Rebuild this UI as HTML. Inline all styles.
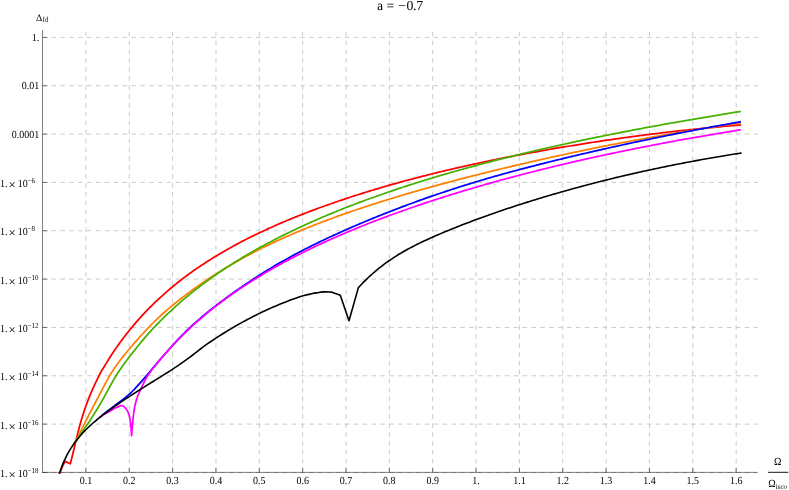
<!DOCTYPE html>
<html><head><meta charset="utf-8"><title>a = -0.7</title>
<style>
html,body{margin:0;padding:0;background:#fff;}
body{width:789px;height:490px;overflow:hidden;}
svg{display:block;will-change:transform;}
text{font-family:"Liberation Serif",serif;fill:#000;text-rendering:geometricPrecision;}
</style></head><body>
<svg width="789" height="490" viewBox="0 0 789 490">
<rect width="789" height="490" fill="#fff"/>
<g stroke="#c4c4c4" stroke-width="0.9" stroke-dasharray="4.5 4.4" fill="none">
<path d="M85.90 472.35 V30.20"/>
<path d="M129.25 472.35 V30.20"/>
<path d="M172.60 472.35 V30.20"/>
<path d="M215.95 472.35 V30.20"/>
<path d="M259.30 472.35 V30.20"/>
<path d="M302.65 472.35 V30.20"/>
<path d="M346.00 472.35 V30.20"/>
<path d="M389.35 472.35 V30.20"/>
<path d="M432.70 472.35 V30.20"/>
<path d="M476.05 472.35 V30.20"/>
<path d="M519.40 472.35 V30.20"/>
<path d="M562.75 472.35 V30.20"/>
<path d="M606.10 472.35 V30.20"/>
<path d="M649.45 472.35 V30.20"/>
<path d="M692.80 472.35 V30.20"/>
<path d="M736.15 472.35 V30.20"/>
<path stroke-dasharray="4.5 4.389" d="M42.55 37.40 H757.60"/>
<path stroke-dasharray="4.5 4.389" d="M42.55 85.74 H757.60"/>
<path stroke-dasharray="4.5 4.389" d="M42.55 134.08 H757.60"/>
<path stroke-dasharray="4.5 4.389" d="M42.55 182.42 H757.60"/>
<path stroke-dasharray="4.5 4.389" d="M42.55 230.76 H757.60"/>
<path stroke-dasharray="4.5 4.389" d="M42.55 279.10 H757.60"/>
<path stroke-dasharray="4.5 4.389" d="M42.55 327.44 H757.60"/>
<path stroke-dasharray="4.5 4.389" d="M42.55 375.78 H757.60"/>
<path stroke-dasharray="4.5 4.389" d="M42.55 424.12 H757.60"/>
<path stroke-dasharray="4.5 4.389" d="M42.55 472.46 H757.60"/>
</g>
<g stroke="#2a2a2a" stroke-width="0.6" fill="none">
<path d="M42.50 30.20 V472.75"/>
<path d="M42.10 472.40 H757.60"/>
<path d="M85.90 472.40 V467.70"/>
<path d="M129.25 472.40 V467.70"/>
<path d="M172.60 472.40 V467.70"/>
<path d="M215.95 472.40 V467.70"/>
<path d="M259.30 472.40 V467.70"/>
<path d="M302.65 472.40 V467.70"/>
<path d="M346.00 472.40 V467.70"/>
<path d="M389.35 472.40 V467.70"/>
<path d="M432.70 472.40 V467.70"/>
<path d="M476.05 472.40 V467.70"/>
<path d="M519.40 472.40 V467.70"/>
<path d="M562.75 472.40 V467.70"/>
<path d="M606.10 472.40 V467.70"/>
<path d="M649.45 472.40 V467.70"/>
<path d="M692.80 472.40 V467.70"/>
<path d="M736.15 472.40 V467.70"/>
<path d="M42.50 37.40 H47.40"/>
<path d="M42.50 85.74 H47.40"/>
<path d="M42.50 134.08 H47.40"/>
<path d="M42.50 182.42 H47.40"/>
<path d="M42.50 230.76 H47.40"/>
<path d="M42.50 279.10 H47.40"/>
<path d="M42.50 327.44 H47.40"/>
<path d="M42.50 375.78 H47.40"/>
<path d="M42.50 424.12 H47.40"/>
<path d="M42.50 472.46 H47.40"/>
</g>
<defs><clipPath id="cp"><rect x="42.55" y="30.20" width="715.05" height="443.55"/></clipPath></defs>
<g fill="none" stroke-width="1.75" stroke-linejoin="round" stroke-linecap="butt" clip-path="url(#cp)"><g transform="translate(0 0.3)">
<path stroke="#ff0000" d="M58.70 476.20C58.88 475.65 59.17 474.60 59.80 472.90C60.43 471.20 61.62 467.98 62.50 466.00C63.38 464.02 64.67 461.83 65.10 461.00L70.30 463.50L72.50 454.89C72.61 454.40 72.96 452.94 73.19 451.97C73.42 451.00 73.66 450.02 73.89 449.05C74.12 448.08 74.35 447.10 74.58 446.13C74.81 445.16 75.04 444.19 75.27 443.22C75.50 442.25 75.74 441.27 75.97 440.30C76.20 439.33 76.43 438.36 76.67 437.39C76.91 436.42 77.15 435.46 77.39 434.49C77.63 433.52 77.87 432.55 78.12 431.59C78.37 430.62 78.62 429.66 78.87 428.70C79.12 427.74 79.37 426.77 79.63 425.81C79.89 424.85 80.15 423.90 80.42 422.94C80.69 421.98 80.96 421.02 81.24 420.07C81.52 419.12 81.80 418.17 82.09 417.22C82.38 416.27 82.67 415.32 82.97 414.37C83.27 413.42 83.57 412.48 83.88 411.54C84.19 410.60 84.51 409.66 84.83 408.72C85.15 407.78 85.48 406.85 85.81 405.92C86.14 404.99 86.48 404.05 86.82 403.12C87.16 402.19 87.51 401.26 87.87 400.34C88.23 399.41 88.59 398.49 88.96 397.57C89.33 396.65 89.70 395.73 90.08 394.81C90.46 393.89 90.84 392.98 91.23 392.07C91.62 391.16 92.02 390.25 92.42 389.34C92.82 388.43 93.23 387.52 93.64 386.62C94.05 385.72 94.47 384.82 94.89 383.92C95.31 383.02 95.74 382.12 96.17 381.23C96.60 380.34 97.03 379.44 97.47 378.55C97.91 377.66 98.35 376.77 98.80 375.88C99.25 374.99 99.70 374.11 100.16 373.22C100.62 372.34 101.15 371.31 101.54 370.57C101.93 369.82 102.34 369.05 102.50 368.75L102.50 369.23C102.75 368.80 103.50 367.52 104.01 366.66C104.52 365.81 105.03 364.95 105.54 364.10C106.06 363.25 106.58 362.40 107.10 361.55C107.62 360.70 108.15 359.86 108.68 359.02C109.21 358.18 109.74 357.34 110.28 356.50C110.82 355.66 111.36 354.83 111.91 354.00C112.46 353.17 113.01 352.34 113.56 351.51C114.11 350.68 114.67 349.86 115.23 349.04C115.79 348.22 116.36 347.40 116.93 346.59C117.50 345.77 118.08 344.96 118.66 344.15C119.24 343.34 119.81 342.53 120.40 341.73C120.99 340.93 121.59 340.13 122.18 339.33C122.78 338.53 123.37 337.73 123.97 336.94C124.57 336.15 125.18 335.36 125.79 334.57C126.40 333.78 127.01 333.00 127.63 332.22C128.25 331.44 128.87 330.66 129.50 329.89C130.13 329.12 130.76 328.35 131.39 327.58C132.02 326.81 132.66 326.04 133.30 325.28C133.94 324.52 134.58 323.76 135.23 323.01C135.88 322.25 136.53 321.50 137.19 320.75C137.85 320.00 138.51 319.26 139.17 318.52C139.83 317.78 140.50 317.04 141.17 316.30C141.84 315.56 142.52 314.83 143.20 314.10C143.88 313.37 144.56 312.64 145.25 311.92C145.94 311.20 146.62 310.49 147.31 309.77C148.00 309.05 148.70 308.34 149.40 307.63C150.10 306.92 150.80 306.22 151.51 305.52C152.22 304.82 152.94 304.12 153.65 303.42C154.37 302.73 155.08 302.04 155.80 301.35C156.52 300.66 157.24 299.97 157.97 299.29C158.70 298.61 159.43 297.93 160.16 297.26C160.89 296.59 161.63 295.92 162.37 295.25C163.11 294.58 163.86 293.92 164.61 293.26C165.36 292.60 166.11 291.94 166.86 291.29C167.61 290.64 168.36 289.99 169.12 289.34C169.88 288.69 170.64 288.05 171.41 287.41C172.18 286.77 172.94 286.13 173.71 285.50C174.48 284.87 175.26 284.25 176.04 283.62C176.82 283.00 177.60 282.37 178.38 281.75C179.16 281.13 179.94 280.52 180.73 279.91C181.52 279.30 182.31 278.69 183.10 278.08C183.89 277.47 184.69 276.88 185.49 276.28C186.29 275.68 187.10 275.09 187.90 274.50C188.70 273.91 189.50 273.32 190.31 272.74C191.12 272.16 191.94 271.58 192.75 271.00C193.56 270.42 194.38 269.85 195.20 269.28C196.02 268.71 196.84 268.14 197.66 267.58C198.48 267.02 199.31 266.46 200.14 265.90C200.97 265.34 201.80 264.78 202.63 264.23C203.46 263.68 204.29 263.13 205.13 262.59C205.97 262.05 206.81 261.51 207.65 260.97C208.49 260.43 209.34 259.90 210.18 259.37C211.03 258.84 211.87 258.31 212.72 257.78C213.57 257.25 214.42 256.73 215.27 256.21C216.12 255.69 216.97 255.18 217.83 254.67C218.69 254.16 219.55 253.64 220.41 253.13C221.27 252.62 222.13 252.12 222.99 251.62C223.85 251.12 224.72 250.62 225.59 250.13C226.46 249.63 227.32 249.14 228.19 248.65C229.06 248.16 229.94 247.68 230.81 247.19C231.68 246.70 232.55 246.22 233.43 245.74C234.31 245.26 235.19 244.78 236.07 244.31C236.95 243.84 237.83 243.37 238.71 242.90C239.59 242.43 240.48 241.97 241.36 241.51C242.25 241.05 243.13 240.58 244.02 240.12C244.91 239.66 245.80 239.21 246.69 238.76C247.58 238.31 248.47 237.86 249.36 237.41C250.25 236.96 251.14 236.52 252.04 236.08C252.94 235.64 253.83 235.20 254.73 234.76C255.63 234.32 256.53 233.88 257.43 233.45C258.33 233.02 259.24 232.59 260.14 232.16C261.04 231.73 261.95 231.30 262.85 230.88C263.75 230.46 264.66 230.04 265.57 229.62C266.48 229.20 267.38 228.78 268.29 228.37C269.20 227.96 270.11 227.54 271.02 227.13C271.93 226.72 272.85 226.31 273.76 225.91C274.67 225.50 275.58 225.10 276.50 224.70C277.42 224.30 278.33 223.90 279.25 223.50C280.17 223.10 281.08 222.71 282.00 222.32C282.92 221.93 283.84 221.53 284.76 221.14C285.68 220.75 286.60 220.36 287.52 219.98C288.44 219.60 289.37 219.22 290.29 218.84C291.22 218.46 292.14 218.08 293.07 217.70C294.00 217.32 294.92 216.94 295.85 216.57C296.78 216.20 297.70 215.83 298.63 215.46C299.56 215.09 300.49 214.73 301.42 214.36C302.35 214.00 303.28 213.63 304.21 213.27C305.14 212.91 306.08 212.55 307.01 212.19C307.94 211.83 308.88 211.47 309.81 211.12C310.74 210.77 311.68 210.41 312.61 210.06C313.55 209.71 314.48 209.36 315.42 209.01C316.36 208.66 317.29 208.31 318.23 207.97C319.17 207.62 320.11 207.28 321.05 206.94C321.99 206.60 322.93 206.26 323.87 205.92C324.81 205.58 325.75 205.25 326.69 204.91C327.63 204.57 328.58 204.24 329.52 203.91C330.46 203.58 331.41 203.25 332.35 202.92C333.29 202.59 334.24 202.26 335.18 201.94C336.12 201.62 337.07 201.29 338.02 200.97C338.97 200.65 339.91 200.33 340.86 200.01C341.81 199.69 342.75 199.37 343.70 199.05C344.65 198.73 345.60 198.42 346.55 198.11C347.50 197.80 348.45 197.48 349.40 197.17C350.35 196.86 351.30 196.55 352.25 196.24C353.20 195.93 354.15 195.62 355.10 195.32C356.05 195.01 357.01 194.71 357.96 194.41C358.91 194.11 359.87 193.80 360.82 193.50C361.77 193.20 362.73 192.91 363.68 192.61C364.63 192.31 365.60 192.01 366.55 191.72C367.50 191.43 368.46 191.13 369.41 190.84C370.37 190.55 371.32 190.26 372.28 189.97C373.24 189.68 374.19 189.39 375.15 189.10C376.11 188.81 377.07 188.52 378.03 188.24C378.99 187.96 379.94 187.68 380.90 187.40C381.86 187.12 382.82 186.83 383.78 186.55C384.74 186.27 385.70 186.00 386.66 185.72C387.62 185.44 388.59 185.16 389.55 184.89C390.51 184.61 391.47 184.34 392.43 184.07C393.39 183.80 394.36 183.53 395.32 183.26C396.28 182.99 397.25 182.73 398.21 182.46C399.17 182.19 400.14 181.93 401.10 181.66C402.06 181.39 403.03 181.13 403.99 180.87C404.95 180.61 405.93 180.34 406.89 180.08C407.85 179.82 408.81 179.57 409.78 179.31C410.75 179.05 411.71 178.80 412.68 178.54C413.65 178.28 414.61 178.02 415.58 177.77C416.55 177.52 417.51 177.27 418.48 177.02C419.45 176.77 420.42 176.52 421.39 176.27C422.36 176.02 423.32 175.77 424.29 175.52C425.26 175.27 426.23 175.03 427.20 174.79C428.17 174.55 429.14 174.30 430.11 174.06C431.08 173.82 432.05 173.57 433.02 173.33C433.99 173.09 434.96 172.85 435.93 172.61C436.90 172.37 437.88 172.14 438.85 171.90C439.82 171.66 440.79 171.43 441.76 171.20C442.73 170.97 443.71 170.73 444.68 170.50C445.65 170.27 446.63 170.04 447.60 169.81C448.57 169.58 449.55 169.35 450.52 169.12C451.49 168.89 452.47 168.67 453.44 168.44C454.41 168.21 455.39 167.98 456.36 167.76C457.33 167.53 458.30 167.31 459.28 167.09C460.25 166.87 461.23 166.65 462.21 166.43C463.19 166.21 464.16 165.99 465.14 165.77C466.12 165.55 467.08 165.34 468.06 165.12C469.04 164.90 470.01 164.69 470.99 164.47C471.97 164.25 472.94 164.04 473.92 163.83C474.90 163.62 475.87 163.41 476.85 163.20C477.83 162.99 478.81 162.78 479.79 162.57C480.77 162.36 481.74 162.15 482.72 161.94C483.70 161.73 484.67 161.52 485.65 161.32C486.63 161.12 487.61 160.91 488.59 160.71C489.57 160.51 490.55 160.30 491.53 160.10C492.51 159.90 493.49 159.69 494.47 159.49C495.45 159.29 496.43 159.10 497.41 158.90C498.39 158.70 499.37 158.50 500.35 158.30C501.33 158.10 502.31 157.91 503.29 157.71C504.27 157.52 505.25 157.32 506.23 157.13C507.21 156.94 508.19 156.74 509.17 156.55C510.15 156.36 511.14 156.17 512.12 155.98C513.10 155.79 514.08 155.60 515.06 155.41C516.04 155.22 517.03 155.03 518.01 154.84C518.99 154.65 519.97 154.47 520.95 154.29C521.93 154.10 522.92 153.91 523.90 153.73C524.88 153.54 525.87 153.36 526.85 153.18C527.83 153.00 528.82 152.82 529.80 152.64C530.78 152.46 531.77 152.27 532.75 152.09C533.73 151.91 534.72 151.74 535.70 151.56C536.69 151.38 537.67 151.21 538.66 151.03C539.64 150.85 540.63 150.68 541.61 150.50C542.59 150.32 543.57 150.15 544.56 149.98C545.54 149.81 546.53 149.63 547.52 149.46C548.50 149.29 549.49 149.11 550.47 148.94C551.46 148.77 552.44 148.60 553.43 148.43C554.41 148.26 555.39 148.10 556.38 147.93C557.37 147.76 558.35 147.60 559.34 147.43C560.33 147.26 561.31 147.10 562.30 146.93C563.29 146.76 564.27 146.59 565.26 146.43C566.25 146.27 567.23 146.11 568.22 145.95C569.21 145.79 570.19 145.62 571.18 145.46C572.17 145.30 573.15 145.14 574.14 144.98C575.13 144.82 576.11 144.66 577.10 144.50C578.09 144.34 579.07 144.19 580.06 144.03C581.05 143.87 582.04 143.72 583.03 143.56C584.02 143.40 585.00 143.25 585.99 143.09C586.98 142.94 587.96 142.78 588.95 142.63C589.94 142.48 590.93 142.32 591.92 142.17C592.91 142.02 593.89 141.87 594.88 141.72C595.87 141.57 596.86 141.42 597.85 141.27C598.84 141.12 599.83 140.97 600.82 140.82C601.81 140.67 602.79 140.53 603.78 140.38C604.77 140.23 605.76 140.09 606.75 139.94C607.74 139.79 608.73 139.65 609.72 139.51C610.71 139.37 611.70 139.22 612.69 139.08C613.68 138.94 614.67 138.79 615.66 138.65C616.65 138.51 617.64 138.37 618.63 138.23C619.62 138.09 620.61 137.95 621.60 137.81C622.59 137.67 623.58 137.54 624.57 137.40C625.56 137.26 626.55 137.13 627.54 136.99C628.53 136.85 629.52 136.72 630.51 136.58C631.50 136.45 632.49 136.31 633.48 136.18C634.47 136.05 635.47 135.91 636.46 135.78C637.45 135.65 638.44 135.52 639.43 135.39C640.42 135.26 641.42 135.13 642.41 135.00C643.40 134.87 644.39 134.75 645.38 134.62C646.37 134.49 647.37 134.37 648.36 134.24C649.35 134.11 650.34 133.99 651.33 133.86C652.32 133.74 653.32 133.61 654.31 133.49C655.30 133.37 656.30 133.25 657.29 133.13C658.28 133.01 659.27 132.88 660.26 132.76C661.25 132.64 662.25 132.53 663.24 132.41C664.23 132.29 665.23 132.17 666.22 132.05C667.21 131.93 668.21 131.81 669.20 131.70C670.19 131.58 671.19 131.47 672.18 131.36C673.17 131.25 674.17 131.13 675.16 131.02C676.15 130.91 677.15 130.79 678.14 130.68C679.13 130.57 680.12 130.46 681.12 130.35C682.12 130.24 683.12 130.14 684.11 130.03C685.11 129.92 686.10 129.81 687.09 129.70C688.08 129.59 689.08 129.49 690.07 129.39C691.07 129.28 692.06 129.17 693.06 129.07C694.05 128.97 695.05 128.87 696.04 128.77C697.03 128.67 698.02 128.56 699.02 128.46C700.01 128.36 701.01 128.26 702.01 128.16C703.00 128.06 704.00 127.97 704.99 127.87C705.99 127.77 706.98 127.68 707.98 127.58C708.98 127.48 709.98 127.39 710.97 127.29C711.97 127.20 712.96 127.10 713.95 127.01C714.95 126.92 715.94 126.82 716.94 126.73C717.94 126.64 718.93 126.55 719.93 126.46C720.92 126.37 721.91 126.28 722.91 126.19C723.90 126.10 724.90 126.02 725.90 125.93C726.90 125.84 727.89 125.75 728.89 125.67C729.89 125.59 730.88 125.50 731.88 125.42C732.88 125.34 733.87 125.25 734.87 125.17C735.87 125.09 736.86 125.00 737.86 124.92C738.86 124.84 740.34 124.72 740.85 124.68C741.36 124.64 740.89 124.68 740.90 124.68"/>
<path stroke="#ff8000" d="M72.00 446.40C72.30 445.97 73.22 444.69 73.78 443.82C74.34 442.95 74.87 442.06 75.38 441.18C75.89 440.30 76.38 439.41 76.86 438.52C77.34 437.63 77.81 436.73 78.28 435.84C78.75 434.95 79.20 434.06 79.66 433.16C80.11 432.26 80.56 431.36 81.01 430.46C81.46 429.56 81.91 428.67 82.35 427.77C82.79 426.87 83.24 425.98 83.68 425.08C84.12 424.18 84.57 423.28 85.01 422.39C85.45 421.50 85.90 420.60 86.34 419.71C86.78 418.82 87.23 417.92 87.68 417.03C88.13 416.14 88.58 415.25 89.03 414.36C89.48 413.47 89.93 412.59 90.39 411.71C90.85 410.83 91.31 409.94 91.78 409.06C92.25 408.18 92.71 407.29 93.18 406.41C93.65 405.53 94.12 404.65 94.59 403.77C95.06 402.89 95.53 402.00 96.00 401.12C96.47 400.24 96.94 399.36 97.41 398.47C97.88 397.58 98.35 396.69 98.81 395.80C99.27 394.91 99.73 394.02 100.19 393.13C100.65 392.24 101.10 391.35 101.56 390.46C102.02 389.57 102.47 388.68 102.93 387.79C103.39 386.90 103.85 386.02 104.31 385.14C104.77 384.26 105.24 383.38 105.71 382.50C106.18 381.62 106.65 380.76 107.13 379.89C107.61 379.02 108.10 378.16 108.59 377.30C109.08 376.44 109.58 375.59 110.09 374.74C110.60 373.89 111.11 373.05 111.64 372.21C112.17 371.37 112.70 370.55 113.25 369.72C113.80 368.89 114.35 368.07 114.91 367.25C115.47 366.43 116.04 365.63 116.61 364.82C117.18 364.01 117.76 363.21 118.35 362.41C118.94 361.61 119.54 360.81 120.14 360.02C120.74 359.23 121.35 358.45 121.96 357.67C122.57 356.89 123.20 356.11 123.82 355.33C124.44 354.55 125.07 353.79 125.70 353.02C126.33 352.25 126.97 351.49 127.61 350.72C128.25 349.96 128.89 349.19 129.54 348.43C130.19 347.67 130.83 346.92 131.48 346.16C132.13 345.40 132.78 344.64 133.44 343.89C134.09 343.13 134.75 342.38 135.41 341.63C136.07 340.88 136.73 340.14 137.39 339.39C138.05 338.64 138.72 337.89 139.38 337.15C140.04 336.41 140.71 335.67 141.38 334.93C142.05 334.19 142.72 333.45 143.40 332.72C144.08 331.99 144.75 331.26 145.43 330.53C146.11 329.80 146.80 329.08 147.49 328.36C148.18 327.64 148.87 326.91 149.56 326.20C150.25 325.49 150.95 324.78 151.65 324.07C152.35 323.36 153.05 322.65 153.76 321.95C154.47 321.25 155.17 320.55 155.89 319.86C156.60 319.17 157.33 318.48 158.05 317.79C158.77 317.10 159.49 316.42 160.22 315.74C160.95 315.06 161.68 314.39 162.42 313.72C163.16 313.05 163.90 312.39 164.65 311.73C165.40 311.07 166.15 310.42 166.90 309.77C167.66 309.12 168.42 308.47 169.18 307.83C169.94 307.19 170.71 306.56 171.48 305.92C172.25 305.29 173.02 304.65 173.79 304.02C174.56 303.39 175.34 302.76 176.12 302.14C176.90 301.52 177.68 300.90 178.46 300.28C179.24 299.66 180.03 299.04 180.82 298.43C181.61 297.82 182.40 297.21 183.19 296.60C183.98 295.99 184.77 295.38 185.57 294.78C186.37 294.18 187.16 293.59 187.96 292.99C188.76 292.39 189.57 291.79 190.37 291.20C191.17 290.61 191.97 290.02 192.78 289.43C193.59 288.84 194.40 288.26 195.21 287.68C196.02 287.10 196.84 286.52 197.65 285.95C198.47 285.38 199.28 284.80 200.10 284.23C200.92 283.66 201.75 283.09 202.57 282.53C203.39 281.96 204.21 281.40 205.04 280.84C205.87 280.28 206.70 279.72 207.53 279.17C208.36 278.62 209.20 278.07 210.03 277.52C210.86 276.97 211.69 276.42 212.53 275.88C213.37 275.34 214.21 274.80 215.05 274.26C215.89 273.72 216.74 273.19 217.58 272.66C218.43 272.13 219.27 271.60 220.12 271.07C220.97 270.54 221.82 270.01 222.67 269.49C223.52 268.97 224.38 268.45 225.23 267.94C226.08 267.43 226.94 266.91 227.80 266.40C228.66 265.89 229.52 265.38 230.38 264.87C231.24 264.36 232.10 263.86 232.96 263.36C233.82 262.86 234.69 262.37 235.56 261.87C236.43 261.38 237.30 260.88 238.17 260.39C239.04 259.90 239.91 259.42 240.78 258.93C241.65 258.44 242.52 257.96 243.40 257.48C244.28 257.00 245.16 256.53 246.04 256.05C246.92 255.58 247.80 255.10 248.68 254.63C249.56 254.16 250.45 253.69 251.33 253.23C252.21 252.77 253.09 252.31 253.98 251.85C254.87 251.39 255.76 250.94 256.65 250.48C257.54 250.02 258.43 249.57 259.32 249.12C260.21 248.67 261.11 248.22 262.00 247.78C262.89 247.34 263.79 246.89 264.69 246.45C265.59 246.01 266.48 245.57 267.38 245.14C268.28 244.70 269.18 244.27 270.08 243.84C270.98 243.41 271.89 242.99 272.79 242.56C273.69 242.13 274.59 241.71 275.50 241.29C276.41 240.87 277.32 240.45 278.23 240.03C279.14 239.61 280.04 239.20 280.95 238.79C281.86 238.38 282.78 237.97 283.69 237.56C284.60 237.15 285.52 236.75 286.43 236.35C287.34 235.95 288.25 235.54 289.17 235.14C290.09 234.74 291.00 234.34 291.92 233.95C292.84 233.56 293.76 233.16 294.68 232.77C295.60 232.38 296.52 232.00 297.44 231.61C298.36 231.22 299.29 230.83 300.21 230.45C301.13 230.07 302.06 229.69 302.98 229.31C303.90 228.93 304.82 228.55 305.75 228.17C306.68 227.79 307.60 227.42 308.53 227.05C309.46 226.68 310.39 226.31 311.32 225.94C312.25 225.57 313.18 225.21 314.11 224.84C315.04 224.47 315.97 224.11 316.90 223.75C317.83 223.39 318.77 223.03 319.70 222.67C320.63 222.31 321.57 221.95 322.50 221.60C323.43 221.25 324.37 220.89 325.30 220.54C326.24 220.19 327.17 219.84 328.11 219.49C329.05 219.14 329.98 218.80 330.92 218.45C331.86 218.10 332.80 217.75 333.74 217.41C334.68 217.07 335.62 216.73 336.56 216.39C337.50 216.05 338.44 215.72 339.38 215.38C340.32 215.04 341.26 214.71 342.20 214.37C343.14 214.03 344.09 213.70 345.03 213.37C345.97 213.04 346.92 212.71 347.86 212.38C348.81 212.05 349.75 211.72 350.70 211.40C351.64 211.08 352.58 210.75 353.53 210.43C354.47 210.11 355.42 209.78 356.37 209.46C357.32 209.14 358.26 208.83 359.21 208.51C360.16 208.19 361.11 207.88 362.06 207.56C363.01 207.24 363.95 206.92 364.90 206.61C365.85 206.30 366.80 205.99 367.75 205.68C368.70 205.37 369.66 205.06 370.61 204.75C371.56 204.44 372.51 204.14 373.46 203.83C374.41 203.52 375.37 203.21 376.32 202.91C377.27 202.61 378.22 202.31 379.17 202.01C380.12 201.71 381.09 201.41 382.04 201.11C383.00 200.81 383.95 200.51 384.90 200.21C385.85 199.91 386.81 199.62 387.76 199.32C388.71 199.02 389.67 198.73 390.63 198.44C391.59 198.15 392.54 197.86 393.50 197.57C394.46 197.28 395.41 196.99 396.37 196.70C397.33 196.41 398.28 196.12 399.24 195.83C400.20 195.54 401.15 195.26 402.11 194.98C403.07 194.69 404.03 194.40 404.99 194.12C405.95 193.84 406.91 193.56 407.87 193.28C408.83 193.00 409.79 192.72 410.75 192.44C411.71 192.16 412.67 191.88 413.63 191.60C414.59 191.32 415.55 191.05 416.51 190.77C417.47 190.50 418.43 190.22 419.39 189.95C420.35 189.68 421.32 189.40 422.28 189.13C423.24 188.86 424.21 188.58 425.17 188.31C426.13 188.04 427.09 187.78 428.05 187.51C429.01 187.24 429.98 186.97 430.94 186.70C431.90 186.43 432.87 186.16 433.83 185.90C434.79 185.64 435.76 185.37 436.73 185.11C437.70 184.85 438.66 184.58 439.62 184.32C440.58 184.06 441.55 183.79 442.52 183.53C443.49 183.27 444.45 183.01 445.41 182.75C446.38 182.49 447.34 182.24 448.31 181.98C449.28 181.72 450.24 181.46 451.21 181.20C452.18 180.94 453.14 180.69 454.11 180.44C455.08 180.19 456.04 179.92 457.01 179.67C457.98 179.42 458.94 179.17 459.91 178.92C460.88 178.67 461.84 178.41 462.81 178.16C463.78 177.91 464.75 177.66 465.72 177.41C466.69 177.16 467.65 176.91 468.62 176.66C469.59 176.41 470.56 176.17 471.53 175.92C472.50 175.67 473.47 175.43 474.44 175.18C475.41 174.94 476.37 174.69 477.34 174.45C478.31 174.21 479.28 173.96 480.25 173.72C481.22 173.48 482.19 173.23 483.16 172.99C484.13 172.75 485.10 172.51 486.07 172.27C487.04 172.03 488.02 171.79 488.99 171.55C489.96 171.31 490.93 171.07 491.90 170.83C492.87 170.59 493.84 170.36 494.81 170.12C495.78 169.88 496.76 169.65 497.73 169.41C498.70 169.17 499.67 168.94 500.64 168.70C501.61 168.46 502.59 168.23 503.56 168.00C504.53 167.77 505.51 167.53 506.48 167.30C507.45 167.07 508.42 166.84 509.39 166.61C510.36 166.38 511.34 166.14 512.31 165.91C513.28 165.68 514.26 165.46 515.23 165.23C516.20 165.00 517.18 164.77 518.15 164.54C519.12 164.31 520.10 164.09 521.07 163.86C522.05 163.63 523.02 163.41 524.00 163.18C524.98 162.95 525.95 162.72 526.92 162.50C527.89 162.28 528.87 162.05 529.84 161.83C530.81 161.61 531.78 161.38 532.76 161.16C533.74 160.94 534.72 160.71 535.69 160.49C536.67 160.27 537.63 160.05 538.61 159.83C539.59 159.61 540.56 159.39 541.54 159.17C542.52 158.95 543.49 158.73 544.47 158.51C545.45 158.29 546.42 158.08 547.40 157.86C548.38 157.64 549.35 157.42 550.32 157.20C551.30 156.98 552.27 156.78 553.25 156.56C554.23 156.34 555.20 156.12 556.18 155.91C557.16 155.69 558.13 155.48 559.11 155.27C560.09 155.06 561.06 154.85 562.04 154.64C563.02 154.43 564.00 154.21 564.98 154.00C565.96 153.79 566.93 153.58 567.91 153.37C568.89 153.16 569.86 152.96 570.84 152.75C571.82 152.54 572.80 152.33 573.78 152.12C574.76 151.91 575.73 151.71 576.71 151.50C577.69 151.29 578.67 151.09 579.65 150.89C580.63 150.69 581.60 150.47 582.58 150.27C583.56 150.07 584.54 149.87 585.52 149.67C586.50 149.47 587.48 149.26 588.46 149.06C589.44 148.86 590.42 148.66 591.40 148.46C592.38 148.26 593.36 148.06 594.34 147.86C595.32 147.66 596.30 147.46 597.28 147.26C598.26 147.06 599.24 146.87 600.22 146.67C601.20 146.47 602.18 146.28 603.16 146.08C604.14 145.89 605.12 145.69 606.10 145.50C607.08 145.31 608.06 145.11 609.04 144.92C610.02 144.73 611.01 144.53 611.99 144.34C612.97 144.15 613.95 143.95 614.93 143.76C615.91 143.57 616.90 143.38 617.88 143.19C618.86 143.00 619.84 142.82 620.82 142.63C621.80 142.44 622.79 142.25 623.77 142.06C624.75 141.87 625.74 141.69 626.72 141.50C627.70 141.31 628.68 141.12 629.66 140.94C630.64 140.75 631.63 140.57 632.61 140.39C633.59 140.21 634.58 140.02 635.56 139.84C636.54 139.66 637.53 139.47 638.51 139.29C639.49 139.11 640.48 138.93 641.46 138.75C642.44 138.57 643.43 138.39 644.41 138.21C645.39 138.03 646.38 137.86 647.36 137.68C648.34 137.50 649.32 137.32 650.31 137.14C651.29 136.96 652.28 136.80 653.27 136.62C654.25 136.44 655.24 136.27 656.22 136.09C657.20 135.91 658.18 135.74 659.17 135.57C660.15 135.40 661.14 135.22 662.13 135.05C663.12 134.88 664.10 134.70 665.08 134.53C666.07 134.36 667.05 134.19 668.04 134.02C669.03 133.85 670.01 133.68 671.00 133.51C671.99 133.34 672.97 133.18 673.95 133.01C674.94 132.84 675.92 132.68 676.91 132.51C677.90 132.34 678.88 132.17 679.87 132.01C680.86 131.84 681.84 131.69 682.83 131.52C683.82 131.36 684.80 131.18 685.79 131.02C686.78 130.86 687.76 130.70 688.75 130.54C689.74 130.38 690.72 130.21 691.71 130.05C692.70 129.89 693.68 129.73 694.67 129.57C695.66 129.41 696.64 129.25 697.63 129.09C698.62 128.93 699.60 128.78 700.59 128.62C701.58 128.46 702.56 128.31 703.55 128.15C704.54 127.99 705.53 127.84 706.52 127.68C707.51 127.53 708.49 127.37 709.48 127.22C710.47 127.07 711.45 126.91 712.44 126.76C713.43 126.61 714.42 126.45 715.41 126.30C716.40 126.15 717.38 125.99 718.37 125.84C719.36 125.69 720.35 125.54 721.34 125.39C722.33 125.24 723.32 125.09 724.31 124.94C725.30 124.79 726.28 124.65 727.27 124.50C728.26 124.35 729.25 124.21 730.24 124.06C731.23 123.91 732.22 123.77 733.21 123.62C734.20 123.48 735.19 123.33 736.18 123.19C737.17 123.05 738.35 122.86 739.14 122.75C739.93 122.64 740.61 122.54 740.90 122.50"/>
<path stroke="#48b000" d="M76.00 441.02C76.26 440.60 77.05 439.34 77.58 438.51C78.11 437.68 78.65 436.85 79.20 436.02C79.75 435.19 80.31 434.37 80.87 433.54C81.43 432.72 82.00 431.89 82.56 431.07C83.12 430.25 83.69 429.43 84.25 428.60C84.81 427.78 85.39 426.95 85.95 426.12C86.52 425.29 87.08 424.46 87.64 423.63C88.20 422.80 88.76 421.96 89.32 421.13C89.88 420.30 90.43 419.46 90.98 418.62C91.53 417.78 92.08 416.94 92.62 416.09C93.16 415.24 93.70 414.39 94.23 413.54C94.77 412.69 95.30 411.84 95.83 410.98C96.36 410.12 96.88 409.27 97.40 408.41C97.92 407.55 98.43 406.69 98.94 405.82C99.45 404.95 99.97 404.09 100.47 403.22C100.97 402.35 101.47 401.48 101.97 400.61C102.47 399.74 102.97 398.86 103.46 397.98C103.95 397.10 104.44 396.23 104.92 395.35C105.40 394.47 105.88 393.59 106.36 392.71C106.84 391.83 107.31 390.95 107.79 390.07C108.27 389.19 108.74 388.31 109.22 387.43C109.70 386.55 110.17 385.68 110.65 384.81C111.13 383.94 111.61 383.07 112.10 382.20C112.59 381.33 113.08 380.47 113.58 379.61C114.08 378.75 114.58 377.90 115.09 377.05C115.60 376.20 116.12 375.36 116.64 374.52C117.16 373.68 117.70 372.85 118.24 372.02C118.78 371.19 119.34 370.36 119.89 369.54C120.44 368.72 121.00 367.90 121.57 367.09C122.14 366.28 122.72 365.47 123.30 364.66C123.88 363.85 124.47 363.05 125.06 362.25C125.65 361.45 126.24 360.65 126.84 359.86C127.44 359.07 128.04 358.28 128.65 357.49C129.26 356.70 129.88 355.91 130.49 355.12C131.10 354.33 131.71 353.55 132.33 352.77C132.95 351.99 133.57 351.20 134.19 350.42C134.81 349.64 135.44 348.85 136.06 348.07C136.68 347.29 137.30 346.51 137.93 345.74C138.56 344.97 139.19 344.19 139.82 343.42C140.45 342.65 141.09 341.88 141.73 341.12C142.37 340.36 143.00 339.60 143.65 338.84C144.30 338.08 144.95 337.32 145.60 336.57C146.25 335.82 146.91 335.07 147.57 334.33C148.23 333.58 148.89 332.84 149.56 332.10C150.23 331.36 150.90 330.62 151.57 329.88C152.24 329.14 152.92 328.42 153.60 327.69C154.28 326.96 154.96 326.23 155.65 325.51C156.34 324.79 157.03 324.07 157.72 323.35C158.41 322.63 159.11 321.92 159.81 321.21C160.51 320.50 161.20 319.79 161.91 319.09C162.62 318.39 163.33 317.69 164.04 316.99C164.75 316.29 165.46 315.59 166.18 314.90C166.90 314.21 167.62 313.52 168.34 312.83C169.06 312.14 169.79 311.46 170.52 310.78C171.25 310.10 171.98 309.43 172.71 308.75C173.44 308.07 174.18 307.40 174.92 306.73C175.66 306.06 176.41 305.40 177.15 304.74C177.90 304.08 178.64 303.42 179.39 302.76C180.14 302.10 180.89 301.45 181.65 300.80C182.41 300.15 183.17 299.50 183.93 298.86C184.69 298.22 185.45 297.57 186.22 296.93C186.99 296.29 187.76 295.65 188.53 295.02C189.30 294.39 190.07 293.76 190.85 293.13C191.62 292.50 192.40 291.88 193.18 291.26C193.96 290.64 194.75 290.03 195.53 289.41C196.31 288.80 197.10 288.18 197.89 287.57C198.68 286.96 199.48 286.36 200.27 285.75C201.06 285.14 201.86 284.54 202.66 283.94C203.46 283.34 204.26 282.75 205.06 282.16C205.86 281.57 206.66 280.98 207.47 280.39C208.28 279.80 209.09 279.21 209.90 278.63C210.71 278.05 211.53 277.47 212.34 276.89C213.16 276.31 213.97 275.74 214.79 275.17C215.61 274.60 216.43 274.04 217.25 273.47C218.07 272.91 218.89 272.34 219.72 271.78C220.55 271.22 221.38 270.67 222.21 270.11C223.04 269.56 223.87 269.00 224.70 268.45C225.53 267.90 226.37 267.35 227.21 266.81C228.05 266.27 228.89 265.73 229.73 265.19C230.57 264.65 231.41 264.12 232.25 263.58C233.09 263.04 233.94 262.51 234.79 261.98C235.64 261.45 236.48 260.92 237.33 260.40C238.18 259.88 239.04 259.36 239.89 258.84C240.74 258.32 241.59 257.81 242.45 257.29C243.31 256.78 244.16 256.26 245.02 255.75C245.88 255.24 246.74 254.73 247.60 254.23C248.46 253.72 249.32 253.22 250.19 252.72C251.06 252.22 251.92 251.72 252.79 251.23C253.66 250.73 254.53 250.24 255.40 249.75C256.27 249.26 257.14 248.77 258.01 248.28C258.88 247.79 259.75 247.31 260.63 246.83C261.50 246.35 262.38 245.87 263.26 245.39C264.14 244.91 265.02 244.44 265.90 243.97C266.78 243.50 267.66 243.02 268.54 242.55C269.42 242.08 270.31 241.62 271.19 241.16C272.07 240.70 272.96 240.23 273.85 239.77C274.74 239.31 275.62 238.85 276.51 238.39C277.40 237.93 278.29 237.48 279.18 237.03C280.07 236.58 280.97 236.13 281.86 235.68C282.75 235.23 283.65 234.79 284.54 234.35C285.44 233.91 286.33 233.46 287.23 233.02C288.13 232.58 289.02 232.15 289.92 231.71C290.82 231.28 291.72 230.84 292.62 230.41C293.52 229.98 294.43 229.55 295.33 229.12C296.23 228.69 297.14 228.27 298.04 227.84C298.94 227.41 299.84 226.99 300.75 226.57C301.66 226.15 302.57 225.74 303.48 225.32C304.39 224.90 305.29 224.48 306.20 224.07C307.11 223.66 308.03 223.25 308.94 222.84C309.85 222.43 310.76 222.02 311.67 221.61C312.58 221.20 313.50 220.80 314.41 220.40C315.33 220.00 316.24 219.60 317.16 219.20C318.08 218.80 318.99 218.40 319.91 218.01C320.83 217.62 321.75 217.22 322.67 216.83C323.59 216.44 324.51 216.05 325.43 215.66C326.35 215.27 327.27 214.88 328.19 214.49C329.11 214.10 330.04 213.72 330.96 213.34C331.88 212.96 332.81 212.58 333.73 212.20C334.66 211.82 335.58 211.44 336.51 211.07C337.44 210.69 338.36 210.32 339.29 209.95C340.22 209.58 341.14 209.20 342.07 208.83C343.00 208.46 343.93 208.10 344.86 207.73C345.79 207.36 346.72 206.99 347.65 206.63C348.58 206.27 349.52 205.91 350.45 205.55C351.38 205.19 352.31 204.83 353.24 204.47C354.17 204.11 355.12 203.75 356.05 203.40C356.99 203.05 357.92 202.69 358.85 202.34C359.79 201.99 360.72 201.64 361.66 201.29C362.60 200.94 363.53 200.59 364.47 200.25C365.41 199.91 366.35 199.56 367.29 199.22C368.23 198.88 369.16 198.53 370.10 198.19C371.04 197.85 371.99 197.51 372.93 197.17C373.87 196.83 374.81 196.50 375.75 196.16C376.69 195.82 377.64 195.49 378.58 195.16C379.52 194.83 380.46 194.50 381.40 194.17C382.34 193.84 383.30 193.51 384.24 193.18C385.19 192.85 386.12 192.52 387.07 192.20C388.01 191.88 388.96 191.55 389.91 191.23C390.86 190.91 391.80 190.59 392.75 190.27C393.70 189.95 394.64 189.64 395.59 189.32C396.54 189.00 397.49 188.69 398.44 188.37C399.39 188.06 400.33 187.74 401.28 187.43C402.23 187.12 403.18 186.80 404.13 186.49C405.08 186.18 406.04 185.88 406.99 185.57C407.94 185.26 408.89 184.96 409.84 184.65C410.79 184.34 411.75 184.03 412.70 183.73C413.65 183.43 414.61 183.13 415.56 182.83C416.51 182.53 417.47 182.23 418.42 181.93C419.37 181.63 420.32 181.33 421.28 181.03C422.23 180.73 423.19 180.44 424.15 180.15C425.10 179.86 426.06 179.56 427.01 179.27C427.96 178.98 428.92 178.68 429.88 178.39C430.84 178.10 431.79 177.82 432.75 177.53C433.71 177.24 434.67 176.96 435.63 176.67C436.59 176.38 437.54 176.09 438.50 175.81C439.46 175.53 440.42 175.24 441.38 174.96C442.34 174.68 443.30 174.40 444.26 174.12C445.22 173.84 446.18 173.56 447.14 173.28C448.10 173.00 449.06 172.72 450.02 172.45C450.98 172.17 451.94 171.90 452.90 171.63C453.86 171.36 454.83 171.08 455.79 170.81C456.75 170.54 457.71 170.27 458.67 170.00C459.63 169.73 460.60 169.46 461.56 169.19C462.52 168.92 463.49 168.66 464.45 168.39C465.41 168.12 466.38 167.85 467.34 167.59C468.30 167.33 469.27 167.06 470.24 166.80C471.21 166.54 472.17 166.27 473.13 166.01C474.09 165.75 475.06 165.49 476.03 165.23C477.00 164.97 477.97 164.72 478.93 164.46C479.89 164.20 480.86 163.95 481.82 163.69C482.78 163.43 483.75 163.17 484.72 162.92C485.69 162.66 486.66 162.41 487.63 162.16C488.60 161.91 489.56 161.66 490.53 161.41C491.50 161.16 492.46 160.91 493.43 160.66C494.40 160.41 495.37 160.16 496.34 159.91C497.31 159.66 498.28 159.41 499.25 159.17C500.22 158.92 501.18 158.68 502.15 158.44C503.12 158.20 504.09 157.95 505.06 157.71C506.03 157.47 507.00 157.22 507.97 156.98C508.94 156.74 509.92 156.50 510.89 156.26C511.86 156.02 512.83 155.79 513.80 155.55C514.77 155.31 515.74 155.07 516.71 154.83C517.68 154.59 518.66 154.37 519.63 154.13C520.60 153.89 521.57 153.65 522.54 153.42C523.51 153.19 524.49 152.96 525.46 152.73C526.43 152.50 527.41 152.26 528.38 152.03C529.35 151.80 530.33 151.57 531.30 151.34C532.27 151.11 533.25 150.89 534.22 150.66C535.19 150.43 536.17 150.21 537.14 149.98C538.11 149.75 539.09 149.53 540.06 149.30C541.03 149.08 542.00 148.85 542.98 148.63C543.96 148.41 544.93 148.18 545.91 147.96C546.88 147.74 547.86 147.51 548.83 147.29C549.81 147.07 550.78 146.85 551.76 146.63C552.74 146.41 553.72 146.20 554.69 145.98C555.67 145.76 556.63 145.54 557.61 145.32C558.59 145.10 559.56 144.88 560.54 144.67C561.52 144.45 562.49 144.24 563.47 144.03C564.45 143.82 565.42 143.60 566.40 143.39C567.38 143.18 568.35 142.96 569.33 142.75C570.31 142.54 571.29 142.33 572.27 142.12C573.25 141.91 574.22 141.70 575.20 141.49C576.18 141.28 577.15 141.07 578.13 140.86C579.11 140.65 580.09 140.45 581.07 140.24C582.05 140.03 583.02 139.83 584.00 139.62C584.98 139.41 585.96 139.22 586.94 139.01C587.92 138.80 588.89 138.59 589.87 138.39C590.85 138.19 591.83 137.99 592.81 137.79C593.79 137.59 594.77 137.38 595.75 137.18C596.73 136.98 597.71 136.78 598.69 136.58C599.67 136.38 600.65 136.18 601.63 135.98C602.61 135.78 603.59 135.59 604.57 135.39C605.55 135.19 606.53 135.00 607.51 134.80C608.49 134.60 609.47 134.41 610.45 134.21C611.43 134.02 612.41 133.82 613.39 133.63C614.37 133.44 615.36 133.23 616.34 133.04C617.32 132.85 618.30 132.66 619.28 132.47C620.26 132.28 621.24 132.08 622.22 131.89C623.20 131.70 624.19 131.51 625.17 131.32C626.15 131.13 627.13 130.94 628.11 130.75C629.09 130.56 630.08 130.38 631.06 130.19C632.04 130.00 633.03 129.81 634.01 129.62C634.99 129.43 635.97 129.25 636.95 129.06C637.93 128.88 638.92 128.69 639.90 128.51C640.88 128.32 641.87 128.13 642.85 127.95C643.83 127.77 644.82 127.58 645.80 127.40C646.78 127.22 647.77 127.04 648.75 126.86C649.73 126.68 650.72 126.49 651.70 126.31C652.68 126.13 653.67 125.95 654.65 125.77C655.63 125.59 656.62 125.41 657.60 125.23C658.58 125.05 659.57 124.88 660.55 124.70C661.53 124.52 662.51 124.34 663.50 124.16C664.49 123.98 665.48 123.81 666.46 123.63C667.45 123.45 668.43 123.27 669.41 123.10C670.39 122.92 671.38 122.75 672.36 122.58C673.35 122.41 674.34 122.23 675.32 122.06C676.31 121.89 677.28 121.71 678.27 121.54C679.25 121.37 680.25 121.19 681.23 121.02C682.22 120.85 683.19 120.68 684.18 120.51C685.16 120.34 686.15 120.17 687.14 120.00C688.12 119.83 689.11 119.66 690.09 119.49C691.08 119.32 692.06 119.15 693.05 118.98C694.04 118.81 695.02 118.65 696.01 118.48C697.00 118.31 697.98 118.15 698.96 117.98C699.95 117.81 700.93 117.65 701.92 117.48C702.91 117.31 703.89 117.15 704.88 116.98C705.87 116.81 706.85 116.66 707.84 116.49C708.83 116.32 709.81 116.15 710.80 115.99C711.79 115.83 712.77 115.67 713.76 115.51C714.75 115.35 715.73 115.18 716.72 115.02C717.71 114.86 718.69 114.69 719.68 114.53C720.67 114.37 721.65 114.21 722.64 114.05C723.63 113.89 724.61 113.73 725.60 113.57C726.59 113.41 727.57 113.26 728.56 113.10C729.55 112.94 730.54 112.78 731.53 112.62C732.52 112.46 733.50 112.31 734.49 112.15C735.48 111.99 736.46 111.84 737.45 111.68C738.44 111.52 739.84 111.30 740.41 111.21C740.98 111.12 740.82 111.14 740.90 111.13"/>
<path stroke="#0000ff" d="M101.20 415.70C102.90 414.38 108.00 410.41 111.40 407.80C114.80 405.19 119.90 401.36 121.60 400.07C122.02 399.78 123.29 398.93 124.11 398.32C124.93 397.71 125.72 397.06 126.50 396.41C127.28 395.76 128.04 395.09 128.79 394.41C129.54 393.73 130.28 393.03 131.00 392.33C131.72 391.63 132.43 390.91 133.14 390.19C133.85 389.47 134.55 388.74 135.24 388.01C135.93 387.28 136.62 386.54 137.30 385.80C137.98 385.06 138.65 384.32 139.32 383.57C139.99 382.82 140.66 382.07 141.32 381.32C141.98 380.57 142.64 379.81 143.30 379.05C143.96 378.29 144.61 377.53 145.26 376.77C145.91 376.01 146.56 375.25 147.21 374.49C147.86 373.73 148.51 372.96 149.16 372.20C149.81 371.44 150.45 370.66 151.10 369.90C151.75 369.13 152.39 368.37 153.03 367.61C153.67 366.85 154.31 366.08 154.96 365.32C155.61 364.56 156.25 363.79 156.90 363.03C157.55 362.27 158.19 361.50 158.84 360.74C159.49 359.98 160.13 359.22 160.78 358.46C161.43 357.70 162.09 356.94 162.74 356.19C163.39 355.44 164.04 354.68 164.70 353.93C165.35 353.18 166.01 352.42 166.67 351.67C167.33 350.92 167.99 350.18 168.65 349.43C169.31 348.69 169.97 347.94 170.64 347.20C171.31 346.46 171.98 345.72 172.65 344.98C173.32 344.24 173.99 343.51 174.67 342.78C175.35 342.05 176.03 341.32 176.71 340.59C177.39 339.86 178.08 339.14 178.77 338.42C179.46 337.70 180.15 336.98 180.84 336.27C181.53 335.56 182.24 334.85 182.94 334.14C183.64 333.43 184.34 332.72 185.05 332.02C185.76 331.32 186.47 330.62 187.19 329.93C187.91 329.24 188.63 328.56 189.35 327.87C190.07 327.19 190.80 326.50 191.53 325.82C192.26 325.14 192.99 324.48 193.73 323.81C194.47 323.14 195.22 322.47 195.96 321.81C196.71 321.15 197.45 320.49 198.20 319.83C198.95 319.17 199.70 318.53 200.46 317.88C201.22 317.23 201.99 316.59 202.75 315.95C203.51 315.31 204.27 314.67 205.04 314.03C205.81 313.39 206.59 312.76 207.36 312.13C208.14 311.50 208.91 310.87 209.69 310.25C210.47 309.63 211.25 309.01 212.03 308.39C212.81 307.77 213.60 307.15 214.39 306.54C215.18 305.93 215.96 305.32 216.75 304.71C217.54 304.10 218.33 303.50 219.13 302.89C219.93 302.28 220.72 301.68 221.52 301.08C222.32 300.48 223.12 299.88 223.92 299.29C224.72 298.70 225.53 298.10 226.33 297.51C227.14 296.92 227.94 296.33 228.75 295.74C229.56 295.15 230.36 294.57 231.17 293.99C231.98 293.41 232.80 292.82 233.61 292.24C234.43 291.66 235.24 291.09 236.06 290.52C236.88 289.95 237.69 289.37 238.51 288.80C239.33 288.23 240.16 287.67 240.98 287.10C241.80 286.54 242.62 285.97 243.45 285.41C244.27 284.85 245.10 284.29 245.93 283.73C246.76 283.17 247.59 282.61 248.42 282.06C249.25 281.51 250.08 280.96 250.92 280.41C251.75 279.86 252.59 279.31 253.43 278.76C254.27 278.21 255.10 277.67 255.94 277.13C256.78 276.59 257.62 276.05 258.46 275.51C259.30 274.97 260.14 274.44 260.99 273.91C261.84 273.38 262.68 272.84 263.53 272.31C264.38 271.78 265.22 271.25 266.07 270.73C266.92 270.21 267.78 269.69 268.63 269.17C269.48 268.65 270.33 268.13 271.19 267.62C272.05 267.11 272.90 266.59 273.76 266.08C274.62 265.57 275.48 265.06 276.34 264.56C277.20 264.06 278.07 263.56 278.94 263.06C279.81 262.56 280.66 262.06 281.53 261.57C282.40 261.07 283.27 260.58 284.14 260.09C285.01 259.60 285.89 259.12 286.76 258.63C287.63 258.14 288.50 257.66 289.38 257.18C290.25 256.70 291.13 256.23 292.01 255.75C292.89 255.28 293.77 254.80 294.65 254.33C295.53 253.86 296.41 253.39 297.29 252.92C298.17 252.45 299.06 251.98 299.95 251.52C300.83 251.06 301.71 250.60 302.60 250.14C303.49 249.68 304.38 249.22 305.27 248.76C306.16 248.30 307.05 247.85 307.94 247.40C308.83 246.95 309.73 246.51 310.62 246.06C311.51 245.61 312.41 245.16 313.30 244.72C314.19 244.28 315.09 243.83 315.99 243.39C316.89 242.95 317.78 242.52 318.68 242.08C319.58 241.65 320.48 241.21 321.38 240.78C322.28 240.35 323.19 239.91 324.09 239.48C324.99 239.05 325.90 238.62 326.80 238.20C327.70 237.77 328.61 237.35 329.51 236.93C330.41 236.51 331.32 236.09 332.23 235.67C333.14 235.25 334.04 234.84 334.95 234.42C335.86 234.00 336.77 233.58 337.68 233.17C338.59 232.76 339.51 232.35 340.42 231.94C341.33 231.53 342.24 231.12 343.15 230.71C344.06 230.30 344.97 229.90 345.89 229.50C346.81 229.10 347.72 228.69 348.64 228.29C349.56 227.89 350.47 227.50 351.39 227.10C352.31 226.70 353.22 226.31 354.14 225.91C355.06 225.51 355.98 225.12 356.90 224.73C357.82 224.34 358.73 223.94 359.65 223.55C360.57 223.16 361.50 222.78 362.42 222.39C363.34 222.00 364.26 221.61 365.18 221.23C366.10 220.84 367.02 220.46 367.95 220.08C368.88 219.70 369.81 219.32 370.73 218.94C371.66 218.56 372.57 218.19 373.50 217.81C374.43 217.43 375.35 217.06 376.28 216.68C377.21 216.31 378.13 215.93 379.06 215.56C379.99 215.19 380.92 214.82 381.85 214.45C382.78 214.08 383.71 213.71 384.64 213.34C385.57 212.97 386.50 212.61 387.43 212.24C388.36 211.88 389.29 211.51 390.22 211.15C391.15 210.79 392.08 210.43 393.01 210.07C393.94 209.71 394.88 209.35 395.81 208.99C396.74 208.63 397.68 208.27 398.61 207.92C399.55 207.56 400.48 207.21 401.42 206.86C402.36 206.51 403.29 206.15 404.23 205.80C405.17 205.45 406.10 205.10 407.04 204.75C407.98 204.40 408.91 204.06 409.85 203.71C410.79 203.37 411.72 203.02 412.66 202.68C413.60 202.34 414.54 201.99 415.48 201.65C416.42 201.31 417.36 200.97 418.30 200.63C419.24 200.29 420.18 199.96 421.12 199.62C422.06 199.28 423.01 198.95 423.95 198.62C424.89 198.29 425.84 197.95 426.78 197.62C427.72 197.29 428.67 196.96 429.61 196.63C430.55 196.30 431.50 195.98 432.44 195.65C433.38 195.32 434.33 195.00 435.28 194.67C436.23 194.34 437.17 194.02 438.12 193.70C439.07 193.38 440.01 193.06 440.96 192.74C441.91 192.42 442.85 192.10 443.80 191.79C444.75 191.47 445.70 191.16 446.65 190.85C447.60 190.54 448.55 190.22 449.50 189.91C450.45 189.60 451.40 189.29 452.35 188.98C453.30 188.67 454.25 188.37 455.20 188.06C456.15 187.75 457.11 187.44 458.06 187.14C459.01 186.83 459.96 186.53 460.91 186.23C461.86 185.93 462.82 185.63 463.78 185.33C464.73 185.03 465.69 184.74 466.64 184.44C467.59 184.14 468.55 183.84 469.50 183.55C470.45 183.26 471.41 182.97 472.37 182.68C473.33 182.39 474.28 182.10 475.24 181.81C476.20 181.52 477.15 181.23 478.11 180.94C479.07 180.65 480.03 180.37 480.99 180.09C481.95 179.81 482.90 179.52 483.86 179.24C484.82 178.96 485.78 178.67 486.74 178.39C487.70 178.11 488.66 177.84 489.62 177.56C490.58 177.28 491.54 177.00 492.50 176.73C493.46 176.45 494.43 176.18 495.39 175.91C496.35 175.64 497.31 175.36 498.27 175.09C499.23 174.82 500.20 174.55 501.16 174.28C502.12 174.01 503.09 173.75 504.05 173.48C505.01 173.21 505.98 172.94 506.94 172.68C507.90 172.42 508.88 172.15 509.84 171.89C510.80 171.63 511.76 171.36 512.73 171.10C513.70 170.84 514.66 170.58 515.63 170.32C516.60 170.06 517.55 169.80 518.52 169.54C519.49 169.28 520.45 169.03 521.42 168.77C522.39 168.52 523.35 168.26 524.32 168.01C525.29 167.76 526.25 167.50 527.22 167.25C528.19 167.00 529.16 166.74 530.13 166.49C531.10 166.24 532.06 165.99 533.03 165.74C534.00 165.49 534.97 165.24 535.94 164.99C536.91 164.74 537.87 164.50 538.84 164.25C539.81 164.00 540.78 163.77 541.75 163.52C542.72 163.28 543.69 163.03 544.66 162.78C545.63 162.53 546.60 162.29 547.57 162.05C548.54 161.81 549.51 161.57 550.48 161.33C551.45 161.09 552.42 160.85 553.39 160.61C554.36 160.37 555.33 160.14 556.30 159.90C557.27 159.66 558.25 159.42 559.22 159.18C560.19 158.94 561.16 158.71 562.13 158.48C563.10 158.25 564.08 158.00 565.05 157.77C566.02 157.54 567.00 157.30 567.97 157.07C568.94 156.84 569.91 156.60 570.88 156.37C571.85 156.14 572.83 155.91 573.80 155.68C574.77 155.45 575.75 155.22 576.72 154.99C577.69 154.76 578.67 154.53 579.64 154.30C580.61 154.07 581.59 153.85 582.56 153.62C583.53 153.39 584.51 153.17 585.48 152.94C586.45 152.71 587.42 152.48 588.40 152.26C589.38 152.03 590.36 151.81 591.33 151.59C592.31 151.37 593.27 151.14 594.25 150.92C595.23 150.70 596.20 150.47 597.18 150.25C598.15 150.03 599.12 149.80 600.10 149.58C601.08 149.36 602.05 149.14 603.03 148.92C604.00 148.70 604.98 148.48 605.95 148.26C606.93 148.04 607.90 147.83 608.88 147.61C609.86 147.39 610.83 147.18 611.81 146.96C612.79 146.74 613.76 146.53 614.74 146.31C615.72 146.09 616.69 145.88 617.67 145.66C618.65 145.44 619.62 145.23 620.60 145.02C621.58 144.81 622.55 144.59 623.53 144.38C624.51 144.17 625.48 143.95 626.46 143.74C627.44 143.53 628.41 143.32 629.39 143.11C630.37 142.90 631.34 142.68 632.32 142.47C633.30 142.26 634.28 142.06 635.26 141.85C636.24 141.64 637.21 141.43 638.19 141.22C639.17 141.01 640.14 140.81 641.12 140.60C642.10 140.39 643.08 140.19 644.06 139.98C645.04 139.77 646.02 139.57 647.00 139.37C647.98 139.17 648.95 138.96 649.93 138.76C650.91 138.56 651.89 138.35 652.87 138.15C653.85 137.95 654.83 137.74 655.81 137.54C656.79 137.34 657.77 137.14 658.75 136.94C659.73 136.74 660.71 136.54 661.69 136.34C662.67 136.14 663.65 135.95 664.63 135.75C665.61 135.55 666.59 135.35 667.57 135.15C668.55 134.95 669.53 134.75 670.51 134.56C671.49 134.37 672.47 134.17 673.45 133.98C674.43 133.78 675.41 133.58 676.39 133.39C677.37 133.19 678.36 133.00 679.34 132.81C680.32 132.62 681.30 132.43 682.28 132.24C683.26 132.05 684.24 131.85 685.22 131.66C686.20 131.47 687.19 131.28 688.17 131.09C689.15 130.90 690.13 130.72 691.11 130.53C692.09 130.34 693.08 130.15 694.06 129.96C695.04 129.77 696.03 129.59 697.01 129.40C697.99 129.21 698.97 129.03 699.95 128.84C700.93 128.66 701.92 128.47 702.90 128.29C703.88 128.11 704.87 127.92 705.85 127.74C706.83 127.56 707.82 127.37 708.80 127.19C709.78 127.01 710.77 126.82 711.75 126.64C712.73 126.46 713.72 126.28 714.70 126.10C715.68 125.92 716.67 125.74 717.65 125.56C718.63 125.38 719.62 125.21 720.60 125.03C721.59 124.85 722.57 124.68 723.56 124.50C724.54 124.32 725.53 124.15 726.51 123.97C727.49 123.79 728.48 123.61 729.46 123.44C730.44 123.27 731.42 123.09 732.41 122.92C733.39 122.75 734.38 122.57 735.37 122.40C736.36 122.23 737.40 122.04 738.32 121.88C739.24 121.72 740.47 121.51 740.90 121.43"/>
<path stroke="#ff00ff" d="M99.00 417.60C99.83 417.03 101.93 415.47 104.00 414.20C106.07 412.93 109.23 411.20 111.40 410.00C113.57 408.80 115.30 407.78 117.00 407.00C118.70 406.22 120.35 405.33 121.60 405.30C122.85 405.27 123.55 405.97 124.50 406.80C125.45 407.63 126.55 409.02 127.30 410.30C128.05 411.58 128.57 413.13 129.00 414.50C129.43 415.87 129.63 417.08 129.90 418.50C130.17 419.92 130.42 421.58 130.60 423.00C130.78 424.42 130.87 425.50 131.00 427.00C131.13 428.50 131.30 430.60 131.40 432.00C131.50 433.40 131.57 434.83 131.60 435.40C131.65 434.67 131.77 432.63 131.90 431.00C132.03 429.37 132.23 427.43 132.40 425.60C132.57 423.77 132.73 421.70 132.90 420.00C133.07 418.30 133.20 417.07 133.40 415.40C133.60 413.73 133.83 411.70 134.10 410.00C134.37 408.30 134.63 406.87 135.00 405.20C135.37 403.53 135.80 401.70 136.30 400.00C136.80 398.30 137.35 396.67 138.00 395.00C138.65 393.33 139.02 392.55 140.20 390.00C141.38 387.45 144.28 381.43 145.10 379.72C145.35 379.30 146.11 378.02 146.63 377.19C147.15 376.36 147.69 375.53 148.23 374.71C148.77 373.89 149.33 373.08 149.90 372.27C150.47 371.46 151.05 370.67 151.64 369.87C152.23 369.07 152.83 368.28 153.44 367.50C154.05 366.72 154.66 365.94 155.28 365.17C155.90 364.40 156.53 363.63 157.17 362.87C157.80 362.11 158.45 361.34 159.09 360.58C159.73 359.82 160.38 359.06 161.03 358.30C161.68 357.54 162.33 356.78 162.98 356.03C163.63 355.27 164.28 354.52 164.94 353.77C165.60 353.02 166.26 352.27 166.92 351.52C167.58 350.77 168.25 350.03 168.91 349.29C169.57 348.55 170.24 347.81 170.91 347.07C171.58 346.33 172.26 345.60 172.94 344.87C173.62 344.14 174.29 343.41 174.98 342.69C175.66 341.97 176.36 341.25 177.05 340.53C177.74 339.81 178.43 339.10 179.13 338.39C179.83 337.68 180.53 336.97 181.24 336.26C181.95 335.55 182.65 334.85 183.36 334.15C184.07 333.45 184.78 332.76 185.50 332.07C186.22 331.38 186.94 330.69 187.66 330.00C188.38 329.31 189.11 328.63 189.84 327.95C190.57 327.27 191.30 326.60 192.03 325.92C192.76 325.25 193.50 324.57 194.24 323.90C194.98 323.23 195.72 322.57 196.47 321.91C197.22 321.25 197.97 320.59 198.72 319.93C199.47 319.27 200.22 318.62 200.98 317.97C201.74 317.32 202.50 316.67 203.26 316.03C204.02 315.39 204.78 314.75 205.55 314.11C206.32 313.47 207.09 312.84 207.86 312.21C208.63 311.58 209.40 310.95 210.18 310.32C210.96 309.69 211.74 309.07 212.52 308.45C213.30 307.83 214.08 307.21 214.87 306.60C215.66 305.99 216.45 305.38 217.24 304.77C218.03 304.16 218.83 303.55 219.62 302.95C220.41 302.35 221.21 301.75 222.01 301.15C222.81 300.55 223.61 299.96 224.42 299.37C225.22 298.78 226.03 298.19 226.84 297.61C227.65 297.03 228.46 296.44 229.27 295.86C230.08 295.28 230.90 294.70 231.71 294.13C232.53 293.56 233.34 292.98 234.16 292.41C234.98 291.84 235.81 291.27 236.63 290.71C237.45 290.15 238.28 289.59 239.11 289.03C239.94 288.47 240.76 287.91 241.59 287.36C242.42 286.81 243.25 286.26 244.09 285.71C244.93 285.16 245.76 284.62 246.60 284.08C247.44 283.54 248.28 283.00 249.12 282.46C249.96 281.92 250.81 281.38 251.65 280.85C252.50 280.32 253.34 279.79 254.19 279.26C255.04 278.73 255.89 278.20 256.74 277.68C257.59 277.16 258.44 276.64 259.29 276.12C260.14 275.60 261.00 275.09 261.86 274.58C262.72 274.07 263.57 273.55 264.43 273.04C265.29 272.53 266.15 272.02 267.01 271.52C267.87 271.02 268.75 270.52 269.61 270.02C270.48 269.52 271.33 269.02 272.20 268.53C273.07 268.03 273.94 267.54 274.81 267.05C275.68 266.56 276.56 266.07 277.43 265.59C278.30 265.10 279.18 264.62 280.05 264.14C280.93 263.66 281.80 263.18 282.68 262.70C283.56 262.22 284.43 261.74 285.31 261.27C286.19 260.80 287.08 260.33 287.96 259.86C288.84 259.39 289.73 258.92 290.61 258.46C291.49 258.00 292.37 257.54 293.26 257.08C294.15 256.62 295.04 256.16 295.93 255.70C296.82 255.24 297.71 254.79 298.60 254.34C299.49 253.89 300.38 253.44 301.27 252.99C302.16 252.54 303.06 252.09 303.95 251.65C304.84 251.21 305.74 250.76 306.64 250.32C307.54 249.88 308.44 249.45 309.34 249.01C310.24 248.57 311.13 248.13 312.03 247.70C312.93 247.27 313.84 246.84 314.74 246.41C315.64 245.98 316.55 245.56 317.45 245.13C318.35 244.70 319.25 244.28 320.16 243.86C321.07 243.44 321.97 243.02 322.88 242.60C323.79 242.18 324.70 241.76 325.61 241.35C326.52 240.94 327.43 240.52 328.34 240.11C329.25 239.70 330.16 239.29 331.07 238.88C331.98 238.47 332.89 238.06 333.81 237.66C334.73 237.25 335.64 236.85 336.56 236.45C337.48 236.05 338.38 235.65 339.30 235.25C340.22 234.85 341.14 234.46 342.06 234.07C342.98 233.68 343.89 233.28 344.81 232.89C345.73 232.50 346.65 232.11 347.57 231.72C348.49 231.33 349.42 230.94 350.34 230.56C351.26 230.18 352.19 229.79 353.11 229.41C354.03 229.03 354.95 228.65 355.88 228.27C356.81 227.89 357.73 227.51 358.66 227.13C359.59 226.75 360.51 226.38 361.44 226.01C362.37 225.64 363.29 225.27 364.22 224.90C365.15 224.53 366.08 224.16 367.01 223.79C367.94 223.42 368.87 223.06 369.80 222.69C370.73 222.32 371.66 221.96 372.59 221.60C373.52 221.24 374.46 220.88 375.39 220.52C376.32 220.16 377.26 219.81 378.19 219.45C379.12 219.09 380.06 218.74 380.99 218.39C381.93 218.04 382.86 217.68 383.80 217.33C384.74 216.98 385.67 216.63 386.61 216.28C387.55 215.93 388.48 215.59 389.42 215.24C390.36 214.90 391.30 214.55 392.24 214.21C393.18 213.87 394.12 213.53 395.06 213.19C396.00 212.85 396.94 212.51 397.88 212.17C398.82 211.83 399.76 211.50 400.70 211.16C401.64 210.82 402.59 210.49 403.53 210.16C404.47 209.83 405.42 209.49 406.36 209.16C407.30 208.83 408.25 208.50 409.19 208.17C410.13 207.84 411.07 207.51 412.02 207.19C412.96 206.87 413.91 206.54 414.86 206.22C415.81 205.90 416.75 205.57 417.70 205.25C418.65 204.93 419.59 204.61 420.54 204.29C421.49 203.97 422.43 203.66 423.38 203.34C424.33 203.02 425.28 202.70 426.23 202.39C427.18 202.07 428.12 201.76 429.07 201.45C430.02 201.14 430.97 200.82 431.92 200.51C432.87 200.20 433.83 199.90 434.78 199.59C435.73 199.28 436.68 198.98 437.63 198.67C438.58 198.36 439.54 198.06 440.49 197.75C441.44 197.44 442.39 197.14 443.34 196.84C444.29 196.54 445.25 196.24 446.20 195.94C447.15 195.64 448.12 195.34 449.07 195.04C450.02 194.74 450.98 194.44 451.93 194.15C452.88 193.86 453.84 193.56 454.79 193.27C455.75 192.98 456.70 192.68 457.66 192.39C458.62 192.10 459.57 191.80 460.53 191.51C461.49 191.22 462.44 190.93 463.40 190.64C464.36 190.35 465.32 190.06 466.28 189.78C467.24 189.50 468.19 189.21 469.15 188.93C470.11 188.65 471.07 188.36 472.03 188.08C472.99 187.80 473.94 187.51 474.90 187.23C475.86 186.95 476.82 186.67 477.78 186.39C478.74 186.11 479.70 185.84 480.66 185.56C481.62 185.28 482.59 185.00 483.55 184.73C484.51 184.45 485.47 184.18 486.43 183.91C487.39 183.64 488.36 183.36 489.32 183.09C490.28 182.82 491.24 182.55 492.20 182.28C493.16 182.01 494.13 181.74 495.09 181.47C496.05 181.20 497.01 180.94 497.98 180.67C498.95 180.40 499.92 180.13 500.88 179.87C501.84 179.61 502.81 179.34 503.77 179.08C504.73 178.82 505.70 178.56 506.66 178.30C507.62 178.04 508.59 177.78 509.56 177.52C510.53 177.26 511.49 177.00 512.46 176.74C513.43 176.48 514.39 176.23 515.36 175.97C516.33 175.71 517.29 175.45 518.26 175.20C519.23 174.94 520.19 174.69 521.16 174.44C522.13 174.19 523.09 173.94 524.06 173.69C525.03 173.44 525.99 173.19 526.96 172.94C527.93 172.69 528.90 172.44 529.87 172.19C530.84 171.94 531.81 171.69 532.78 171.45C533.75 171.20 534.71 170.96 535.68 170.72C536.65 170.48 537.62 170.23 538.59 169.99C539.56 169.75 540.53 169.50 541.50 169.26C542.47 169.02 543.44 168.78 544.41 168.54C545.38 168.30 546.36 168.06 547.33 167.82C548.30 167.58 549.27 167.35 550.24 167.11C551.21 166.87 552.19 166.64 553.16 166.40C554.13 166.16 555.10 165.93 556.07 165.70C557.04 165.47 558.02 165.23 558.99 165.00C559.96 164.77 560.94 164.54 561.91 164.31C562.88 164.08 563.86 163.85 564.83 163.62C565.80 163.39 566.78 163.16 567.75 162.93C568.72 162.70 569.70 162.47 570.67 162.25C571.64 162.03 572.62 161.81 573.59 161.58C574.56 161.36 575.53 161.12 576.51 160.90C577.49 160.68 578.47 160.46 579.44 160.24C580.42 160.02 581.38 159.79 582.36 159.57C583.34 159.35 584.31 159.13 585.29 158.91C586.27 158.69 587.24 158.48 588.22 158.26C589.20 158.04 590.17 157.83 591.15 157.61C592.12 157.39 593.10 157.18 594.07 156.96C595.05 156.75 596.02 156.53 597.00 156.32C597.98 156.11 598.96 155.89 599.94 155.68C600.92 155.47 601.89 155.26 602.87 155.05C603.85 154.84 604.82 154.63 605.80 154.42C606.78 154.21 607.75 154.00 608.73 153.79C609.71 153.58 610.69 153.38 611.67 153.17C612.65 152.96 613.62 152.75 614.60 152.55C615.58 152.35 616.56 152.14 617.54 151.94C618.52 151.74 619.50 151.53 620.48 151.33C621.46 151.13 622.43 150.92 623.41 150.72C624.39 150.52 625.37 150.32 626.35 150.12C627.33 149.92 628.31 149.72 629.29 149.52C630.27 149.32 631.25 149.13 632.23 148.93C633.21 148.73 634.19 148.54 635.17 148.34C636.15 148.14 637.14 147.94 638.12 147.75C639.10 147.56 640.08 147.36 641.06 147.17C642.04 146.98 643.02 146.78 644.00 146.59C644.98 146.40 645.96 146.20 646.94 146.01C647.92 145.82 648.91 145.63 649.89 145.44C650.87 145.25 651.85 145.06 652.83 144.87C653.81 144.68 654.80 144.50 655.78 144.31C656.76 144.12 657.75 143.93 658.73 143.74C659.71 143.55 660.69 143.38 661.67 143.19C662.65 143.00 663.64 142.81 664.62 142.63C665.60 142.44 666.59 142.26 667.57 142.08C668.55 141.90 669.54 141.71 670.52 141.53C671.50 141.35 672.49 141.17 673.47 140.99C674.45 140.81 675.44 140.63 676.42 140.45C677.40 140.27 678.39 140.09 679.37 139.91C680.35 139.73 681.34 139.56 682.32 139.38C683.31 139.20 684.29 139.03 685.28 138.85C686.26 138.67 687.25 138.50 688.23 138.32C689.21 138.14 690.19 137.98 691.18 137.80C692.16 137.62 693.15 137.44 694.14 137.27C695.12 137.10 696.11 136.93 697.09 136.76C698.08 136.59 699.06 136.41 700.05 136.24C701.03 136.07 702.01 135.90 703.00 135.73C703.99 135.56 704.97 135.39 705.96 135.22C706.95 135.05 707.93 134.89 708.92 134.72C709.90 134.55 710.88 134.39 711.87 134.22C712.86 134.05 713.84 133.89 714.83 133.72C715.82 133.55 716.80 133.38 717.79 133.22C718.78 133.06 719.76 132.89 720.75 132.73C721.74 132.57 722.72 132.40 723.71 132.24C724.70 132.08 725.68 131.92 726.67 131.76C727.66 131.60 728.64 131.43 729.63 131.27C730.62 131.11 731.60 130.95 732.59 130.79C733.58 130.63 734.56 130.48 735.55 130.32C736.54 130.16 737.63 129.98 738.52 129.84C739.41 129.70 740.50 129.52 740.90 129.46"/>
<path stroke="#000000" stroke-width="1.6" d="M58.40 476.20C58.60 475.61 59.25 473.73 59.60 472.68C59.95 471.63 60.21 470.81 60.53 469.88C60.85 468.95 61.19 468.02 61.53 467.10C61.87 466.18 62.22 465.26 62.59 464.35C62.96 463.44 63.34 462.53 63.73 461.63C64.12 460.73 64.52 459.84 64.94 458.95C65.36 458.06 65.78 457.18 66.22 456.30C66.66 455.42 67.12 454.55 67.59 453.69C68.06 452.83 68.54 451.97 69.03 451.12C69.52 450.27 70.03 449.42 70.55 448.59C71.07 447.75 71.60 446.93 72.15 446.11C72.70 445.29 73.26 444.47 73.83 443.67C74.40 442.87 74.98 442.08 75.57 441.29C76.16 440.50 76.77 439.72 77.39 438.95C78.01 438.18 78.63 437.42 79.27 436.66C79.91 435.91 80.56 435.16 81.22 434.42C81.88 433.68 82.55 432.95 83.23 432.23C83.91 431.51 84.59 430.80 85.28 430.09C85.97 429.38 86.68 428.68 87.39 427.99C88.10 427.30 88.82 426.62 89.55 425.94C90.28 425.26 91.01 424.59 91.75 423.93C92.49 423.27 93.23 422.61 93.98 421.96C94.73 421.31 95.50 420.67 96.26 420.03C97.02 419.39 97.79 418.76 98.56 418.13C99.33 417.50 100.12 416.89 100.90 416.27C101.68 415.65 102.47 415.04 103.26 414.43C104.05 413.82 104.84 413.23 105.64 412.63C106.44 412.03 107.24 411.44 108.04 410.85C108.84 410.26 109.65 409.67 110.46 409.09C111.27 408.51 112.09 407.93 112.90 407.35C113.72 406.77 114.53 406.20 115.35 405.63C116.17 405.06 116.99 404.50 117.81 403.93C118.63 403.37 119.46 402.80 120.29 402.24C121.12 401.68 121.94 401.12 122.77 400.56C123.60 400.00 124.43 399.45 125.26 398.90C126.09 398.35 126.93 397.79 127.76 397.24C128.59 396.69 129.42 396.15 130.26 395.60C131.10 395.05 131.94 394.50 132.78 393.96C133.62 393.42 134.46 392.88 135.30 392.34C136.14 391.80 136.98 391.26 137.82 390.72C138.66 390.18 139.51 389.65 140.35 389.11C141.19 388.57 142.03 388.04 142.88 387.51C143.72 386.98 144.57 386.44 145.42 385.91C146.27 385.38 147.11 384.85 147.96 384.32C148.81 383.79 149.65 383.26 150.50 382.73C151.35 382.20 152.20 381.68 153.05 381.15C153.90 380.62 154.75 380.09 155.60 379.57C156.45 379.05 157.30 378.52 158.15 378.00C159.00 377.48 159.86 376.95 160.71 376.42C161.56 375.89 162.41 375.37 163.26 374.84C164.11 374.31 164.96 373.78 165.81 373.25C166.66 372.72 167.50 372.19 168.35 371.65C169.19 371.11 170.04 370.57 170.88 370.03C171.72 369.49 172.56 368.94 173.40 368.39C174.24 367.84 175.07 367.29 175.90 366.73C176.73 366.17 177.57 365.62 178.40 365.05C179.23 364.49 180.06 363.91 180.88 363.34C181.70 362.77 182.52 362.19 183.34 361.61C184.16 361.03 184.97 360.45 185.78 359.86C186.59 359.27 187.40 358.68 188.21 358.08C189.02 357.48 189.82 356.88 190.62 356.27C191.42 355.66 192.22 355.06 193.01 354.45C193.80 353.84 194.59 353.22 195.38 352.61C196.17 352.00 196.96 351.39 197.75 350.78C198.54 350.17 199.34 349.56 200.13 348.95C200.92 348.34 201.71 347.74 202.51 347.14C203.31 346.54 204.10 345.95 204.91 345.36C205.72 344.77 206.53 344.19 207.34 343.62C208.15 343.05 208.97 342.48 209.79 341.92C210.61 341.36 211.44 340.80 212.27 340.24C213.10 339.69 213.94 339.14 214.77 338.59C215.61 338.04 216.44 337.50 217.28 336.96C218.12 336.42 218.96 335.88 219.80 335.34C220.64 334.80 221.49 334.27 222.33 333.74C223.18 333.21 224.02 332.69 224.87 332.16C225.72 331.63 226.58 331.11 227.43 330.59C228.28 330.07 229.13 329.56 229.99 329.05C230.85 328.54 231.71 328.03 232.57 327.52C233.43 327.01 234.29 326.51 235.15 326.01C236.01 325.51 236.88 325.01 237.75 324.52C238.62 324.03 239.49 323.54 240.36 323.05C241.23 322.56 242.10 322.08 242.98 321.60C243.85 321.12 244.73 320.64 245.61 320.17C246.49 319.70 247.38 319.23 248.26 318.76C249.14 318.29 250.03 317.83 250.91 317.37C251.79 316.91 252.68 316.45 253.57 316.00C254.46 315.55 255.35 315.10 256.25 314.66C257.14 314.22 258.04 313.78 258.94 313.34C259.84 312.90 260.73 312.46 261.63 312.03C262.53 311.60 263.43 311.17 264.34 310.75C265.25 310.33 266.15 309.92 267.06 309.50C267.97 309.08 268.88 308.67 269.79 308.26C270.70 307.85 271.62 307.45 272.53 307.05C273.44 306.65 274.36 306.25 275.28 305.86C276.20 305.47 277.12 305.08 278.04 304.70C278.96 304.32 279.88 303.94 280.81 303.56C281.74 303.18 282.66 302.81 283.59 302.44C284.52 302.07 285.45 301.70 286.38 301.34C287.31 300.98 288.24 300.62 289.17 300.27C290.10 299.92 291.04 299.57 291.98 299.22C292.92 298.88 293.86 298.54 294.80 298.20C295.74 297.86 296.75 297.50 297.62 297.20C298.49 296.89 298.77 296.75 300.00 296.37C301.23 295.99 303.30 295.33 305.00 294.90C306.70 294.47 308.32 294.18 310.20 293.80C312.08 293.42 314.08 292.97 316.30 292.60C318.52 292.23 321.03 291.73 323.50 291.60C325.97 291.47 329.83 291.77 331.10 291.80L340.30 294.90L349.00 320.40L358.40 287.32C358.74 286.95 359.74 285.86 360.42 285.13C361.10 284.40 361.79 283.68 362.48 282.97C363.17 282.26 363.88 281.55 364.58 280.85C365.28 280.15 366.00 279.46 366.71 278.77C367.42 278.08 368.14 277.39 368.87 276.71C369.60 276.03 370.33 275.37 371.07 274.70C371.81 274.03 372.55 273.37 373.30 272.72C374.05 272.07 374.81 271.42 375.57 270.78C376.33 270.14 377.09 269.51 377.86 268.88C378.63 268.25 379.41 267.62 380.19 267.01C380.97 266.39 381.77 265.79 382.56 265.19C383.35 264.59 384.15 263.99 384.95 263.40C385.75 262.81 386.56 262.22 387.37 261.65C388.18 261.07 389.00 260.51 389.82 259.95C390.64 259.39 391.46 258.82 392.29 258.27C393.12 257.72 393.96 257.18 394.80 256.64C395.64 256.10 396.48 255.57 397.32 255.04C398.16 254.51 399.02 253.99 399.87 253.48C400.72 252.97 401.58 252.46 402.44 251.96C403.30 251.46 404.17 250.96 405.04 250.47C405.91 249.98 406.78 249.49 407.65 249.01C408.52 248.53 409.40 248.05 410.28 247.58C411.16 247.11 412.05 246.65 412.93 246.19C413.81 245.73 414.70 245.27 415.59 244.82C416.48 244.37 417.38 243.92 418.27 243.48C419.16 243.04 420.06 242.60 420.96 242.17C421.86 241.74 422.76 241.31 423.66 240.88C424.56 240.45 425.47 240.04 426.38 239.62C427.29 239.20 428.19 238.79 429.10 238.38C430.01 237.97 430.93 237.56 431.84 237.15C432.75 236.75 433.66 236.35 434.58 235.95C435.50 235.55 436.41 235.15 437.33 234.76C438.25 234.37 439.17 233.97 440.09 233.58C441.01 233.19 441.93 232.80 442.85 232.42C443.77 232.03 444.70 231.65 445.62 231.27C446.54 230.89 447.46 230.51 448.39 230.13C449.31 229.75 450.24 229.38 451.17 229.00C452.10 228.62 453.02 228.24 453.95 227.87C454.88 227.50 455.81 227.13 456.74 226.76C457.67 226.39 458.59 226.03 459.52 225.66C460.45 225.29 461.39 224.93 462.32 224.57C463.25 224.21 464.18 223.85 465.11 223.49C466.04 223.13 466.98 222.77 467.91 222.41C468.85 222.05 469.79 221.70 470.72 221.35C471.66 221.00 472.58 220.64 473.52 220.29C474.45 219.94 475.39 219.60 476.33 219.25C477.27 218.90 478.21 218.56 479.15 218.21C480.09 217.87 481.02 217.52 481.96 217.18C482.90 216.84 483.84 216.50 484.78 216.16C485.72 215.82 486.66 215.49 487.60 215.15C488.54 214.81 489.49 214.47 490.43 214.14C491.37 213.81 492.32 213.48 493.26 213.15C494.20 212.82 495.15 212.49 496.09 212.16C497.03 211.83 497.98 211.50 498.92 211.18C499.87 210.86 500.81 210.53 501.76 210.21C502.71 209.89 503.65 209.57 504.60 209.25C505.55 208.93 506.49 208.61 507.44 208.29C508.39 207.97 509.34 207.66 510.29 207.35C511.24 207.04 512.19 206.72 513.14 206.41C514.09 206.10 515.04 205.78 515.99 205.47C516.94 205.16 517.89 204.86 518.84 204.55C519.79 204.24 520.75 203.94 521.70 203.63C522.65 203.32 523.60 203.02 524.55 202.72C525.50 202.42 526.45 202.12 527.41 201.82C528.37 201.52 529.32 201.22 530.28 200.92C531.24 200.62 532.18 200.33 533.14 200.04C534.10 199.75 535.05 199.44 536.01 199.15C536.97 198.86 537.92 198.57 538.88 198.28C539.84 197.99 540.79 197.70 541.75 197.41C542.71 197.12 543.66 196.84 544.62 196.55C545.58 196.27 546.54 195.98 547.50 195.70C548.46 195.42 549.41 195.13 550.37 194.85C551.33 194.57 552.29 194.29 553.25 194.01C554.21 193.73 555.17 193.45 556.13 193.17C557.09 192.89 558.05 192.62 559.01 192.35C559.97 192.07 560.94 191.79 561.90 191.52C562.86 191.25 563.83 190.98 564.79 190.71C565.75 190.44 566.71 190.17 567.67 189.90C568.63 189.63 569.60 189.37 570.56 189.10C571.52 188.83 572.49 188.56 573.45 188.30C574.42 188.04 575.38 187.77 576.35 187.51C577.32 187.25 578.27 186.98 579.24 186.72C580.21 186.46 581.17 186.20 582.14 185.94C583.11 185.68 584.07 185.42 585.04 185.17C586.01 184.91 586.97 184.66 587.94 184.41C588.91 184.16 589.87 183.90 590.84 183.65C591.81 183.40 592.77 183.14 593.74 182.89C594.71 182.64 595.68 182.39 596.65 182.14C597.62 181.89 598.58 181.65 599.55 181.40C600.52 181.16 601.49 180.91 602.46 180.67C603.43 180.43 604.40 180.18 605.37 179.94C606.34 179.70 607.31 179.46 608.28 179.22C609.25 178.98 610.22 178.74 611.19 178.50C612.16 178.26 613.14 178.03 614.11 177.79C615.08 177.55 616.05 177.31 617.02 177.08C617.99 176.85 618.97 176.62 619.94 176.39C620.91 176.16 621.89 175.92 622.86 175.69C623.83 175.46 624.81 175.24 625.78 175.01C626.75 174.78 627.73 174.56 628.70 174.33C629.67 174.10 630.64 173.87 631.62 173.65C632.60 173.43 633.57 173.21 634.55 172.99C635.52 172.77 636.50 172.54 637.47 172.32C638.45 172.10 639.42 171.89 640.40 171.67C641.38 171.45 642.35 171.24 643.33 171.02C644.31 170.80 645.28 170.58 646.26 170.37C647.24 170.16 648.21 169.95 649.19 169.74C650.17 169.53 651.14 169.32 652.12 169.11C653.10 168.90 654.07 168.69 655.05 168.48C656.03 168.27 657.01 168.06 657.99 167.86C658.97 167.66 659.94 167.45 660.92 167.25C661.90 167.05 662.88 166.84 663.86 166.64C664.84 166.44 665.82 166.24 666.80 166.04C667.78 165.84 668.76 165.64 669.74 165.44C670.72 165.24 671.70 165.05 672.68 164.85C673.66 164.65 674.64 164.45 675.62 164.26C676.60 164.07 677.58 163.88 678.56 163.69C679.54 163.50 680.53 163.30 681.51 163.11C682.49 162.92 683.47 162.74 684.45 162.55C685.43 162.36 686.42 162.18 687.40 161.99C688.38 161.80 689.37 161.62 690.35 161.43C691.33 161.25 692.32 161.06 693.30 160.88C694.28 160.70 695.27 160.52 696.25 160.34C697.23 160.16 698.22 159.98 699.20 159.80C700.18 159.62 701.17 159.45 702.15 159.27C703.13 159.09 704.12 158.92 705.10 158.74C706.09 158.56 707.07 158.39 708.06 158.22C709.04 158.05 710.02 157.87 711.01 157.70C712.00 157.53 712.99 157.36 713.97 157.19C714.96 157.02 715.93 156.86 716.92 156.69C717.90 156.52 718.89 156.36 719.88 156.19C720.87 156.02 721.85 155.85 722.84 155.69C723.83 155.53 724.81 155.37 725.80 155.21C726.79 155.05 727.77 154.88 728.76 154.72C729.75 154.56 730.73 154.41 731.72 154.25C732.71 154.09 733.69 153.94 734.68 153.78C735.67 153.62 736.66 153.47 737.65 153.31C738.64 153.16 740.07 152.94 740.61 152.85C741.15 152.76 740.85 152.81 740.90 152.80"/>
</g></g>
<text transform="translate(85.90 483.60) scale(1 1.080)" font-size="10" text-anchor="middle">0.1</text>
<text transform="translate(129.25 483.60) scale(1 1.080)" font-size="10" text-anchor="middle">0.2</text>
<text transform="translate(172.60 483.60) scale(1 1.080)" font-size="10" text-anchor="middle">0.3</text>
<text transform="translate(215.95 483.60) scale(1 1.080)" font-size="10" text-anchor="middle">0.4</text>
<text transform="translate(259.30 483.60) scale(1 1.080)" font-size="10" text-anchor="middle">0.5</text>
<text transform="translate(302.65 483.60) scale(1 1.080)" font-size="10" text-anchor="middle">0.6</text>
<text transform="translate(346.00 483.60) scale(1 1.080)" font-size="10" text-anchor="middle">0.7</text>
<text transform="translate(389.35 483.60) scale(1 1.080)" font-size="10" text-anchor="middle">0.8</text>
<text transform="translate(432.70 483.60) scale(1 1.080)" font-size="10" text-anchor="middle">0.9</text>
<text transform="translate(476.05 483.60) scale(1 1.080)" font-size="10" text-anchor="middle">1.</text>
<text transform="translate(519.40 483.60) scale(1 1.080)" font-size="10" text-anchor="middle">1.1</text>
<text transform="translate(562.75 483.60) scale(1 1.080)" font-size="10" text-anchor="middle">1.2</text>
<text transform="translate(606.10 483.60) scale(1 1.080)" font-size="10" text-anchor="middle">1.3</text>
<text transform="translate(649.45 483.60) scale(1 1.080)" font-size="10" text-anchor="middle">1.4</text>
<text transform="translate(692.80 483.60) scale(1 1.080)" font-size="10" text-anchor="middle">1.5</text>
<text transform="translate(736.15 483.60) scale(1 1.080)" font-size="10" text-anchor="middle">1.6</text>
<text transform="translate(39.30 40.90) scale(1 1.080)" font-size="10" text-anchor="end">1.</text>
<text transform="translate(39.30 89.24) scale(1 1.080)" font-size="10" text-anchor="end">0.01</text>
<text transform="translate(39.30 137.58) scale(1 1.080)" font-size="10" text-anchor="end">0.0001</text>
<text transform="translate(7.40 186.92) scale(1 1.080)" font-size="10" text-anchor="end">1.</text>
<text transform="translate(12.20 189.02) scale(1 1.000)" font-size="13" text-anchor="middle">×</text>
<text transform="translate(17.80 186.92) scale(1 1.080)" font-size="10" text-anchor="start">10</text>
<text transform="translate(27.50 182.82) scale(1 1.080)" font-size="7" text-anchor="start">−6</text>
<text transform="translate(7.40 235.26) scale(1 1.080)" font-size="10" text-anchor="end">1.</text>
<text transform="translate(12.20 237.36) scale(1 1.000)" font-size="13" text-anchor="middle">×</text>
<text transform="translate(17.80 235.26) scale(1 1.080)" font-size="10" text-anchor="start">10</text>
<text transform="translate(27.50 231.16) scale(1 1.080)" font-size="7" text-anchor="start">−8</text>
<text transform="translate(7.40 283.60) scale(1 1.080)" font-size="10" text-anchor="end">1.</text>
<text transform="translate(12.20 285.70) scale(1 1.000)" font-size="13" text-anchor="middle">×</text>
<text transform="translate(17.80 283.60) scale(1 1.080)" font-size="10" text-anchor="start">10</text>
<text transform="translate(27.50 279.50) scale(1 1.080)" font-size="7" text-anchor="start">−10</text>
<text transform="translate(7.40 331.94) scale(1 1.080)" font-size="10" text-anchor="end">1.</text>
<text transform="translate(12.20 334.04) scale(1 1.000)" font-size="13" text-anchor="middle">×</text>
<text transform="translate(17.80 331.94) scale(1 1.080)" font-size="10" text-anchor="start">10</text>
<text transform="translate(27.50 327.84) scale(1 1.080)" font-size="7" text-anchor="start">−12</text>
<text transform="translate(7.40 380.28) scale(1 1.080)" font-size="10" text-anchor="end">1.</text>
<text transform="translate(12.20 382.38) scale(1 1.000)" font-size="13" text-anchor="middle">×</text>
<text transform="translate(17.80 380.28) scale(1 1.080)" font-size="10" text-anchor="start">10</text>
<text transform="translate(27.50 376.18) scale(1 1.080)" font-size="7" text-anchor="start">−14</text>
<text transform="translate(7.40 428.62) scale(1 1.080)" font-size="10" text-anchor="end">1.</text>
<text transform="translate(12.20 430.72) scale(1 1.000)" font-size="13" text-anchor="middle">×</text>
<text transform="translate(17.80 428.62) scale(1 1.080)" font-size="10" text-anchor="start">10</text>
<text transform="translate(27.50 424.52) scale(1 1.080)" font-size="7" text-anchor="start">−16</text>
<text transform="translate(7.40 476.96) scale(1 1.080)" font-size="10" text-anchor="end">1.</text>
<text transform="translate(12.20 479.06) scale(1 1.000)" font-size="13" text-anchor="middle">×</text>
<text transform="translate(17.80 476.96) scale(1 1.080)" font-size="10" text-anchor="start">10</text>
<text transform="translate(27.50 472.86) scale(1 1.080)" font-size="7" text-anchor="start">−18</text>
<text transform="translate(400.10 9.80) scale(1 1.000)" font-size="13.7" text-anchor="middle">a = <tspan dx="0.4">−</tspan><tspan dx="0.6">0</tspan><tspan dx="-0.2">.</tspan><tspan dx="-0.3">7</tspan></text>
<text transform="translate(36.10 20.70) scale(1 1.000)" font-size="9.8" text-anchor="start">Δ</text>
<text transform="translate(42.60 22.00) scale(1 1.080)" font-size="7" text-anchor="start">fd</text>
<text transform="translate(777.80 464.80) scale(1 1.080)" font-size="10" text-anchor="middle">Ω</text>
<path d="M767.9 472.3 H788.3" stroke="#0a0a0a" stroke-width="0.95"/>
<text transform="translate(768.30 487.30) scale(1 1.080)" font-size="10" text-anchor="start">Ω</text>
<text transform="translate(775.80 488.50) scale(1 1.080)" font-size="7" text-anchor="start">isco</text>
</svg>
</body></html>
